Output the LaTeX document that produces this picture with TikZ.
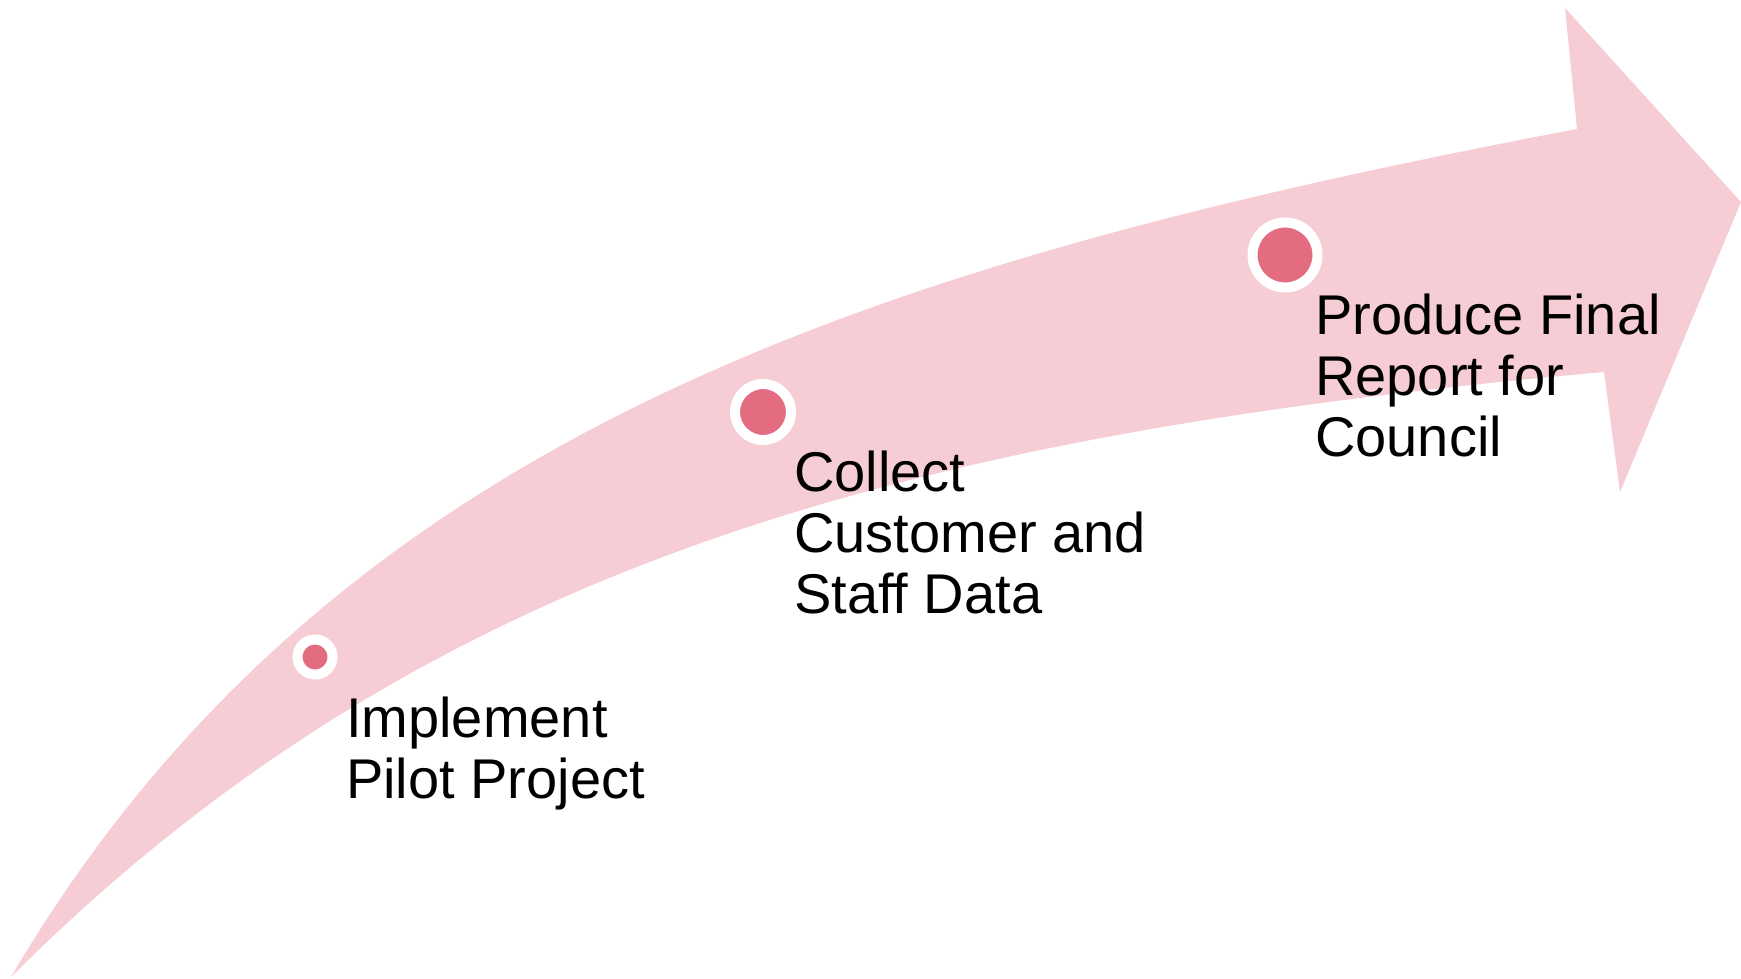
\documentclass[tikz,border=0pt]{standalone}
\usepackage{fontspec}
\setmainfont{Liberation Sans}
\definecolor{bandpink}{HTML}{F6CDD4}
\definecolor{dotpink}{HTML}{E46C80}
\begin{document}
\begin{tikzpicture}[x=1pt,y=-1pt,
  milestone/.style={circle,fill=dotpink,draw=white,line width=10pt,inner sep=0pt},
  steplabel/.style={anchor=north west,inner sep=0pt,align=left,text=black,
    font=\fontsize{56}{61}\selectfont}]
\useasboundingbox (0,0) rectangle (1741,979);
% curved arrow band
\fill[bandpink] (11,977) .. controls (331,433) and (877,262) .. (1577,129)
  -- (1565,8) -- (1741,202) -- (1620,492) -- (1604,372)
  .. controls (924,433) and (431,557) .. (11,977) -- cycle;
% milestones
\node[milestone,minimum size=35pt] (m1) at (315,657) {};
\node[milestone,minimum size=56pt] (m2) at (763,412) {};
\node[milestone,minimum size=65pt] (m3) at (1285,255) {};
% labels
\node[steplabel] (l1) at (346,697) {Implement\\Pilot Project};
\node[steplabel] (l2) at (794,451) {Collect\\Customer and\\Staff Data};
\node[steplabel] (l3) at (1315,294) {Produce Final\\Report for\\Council};
\end{tikzpicture}
\end{document}
